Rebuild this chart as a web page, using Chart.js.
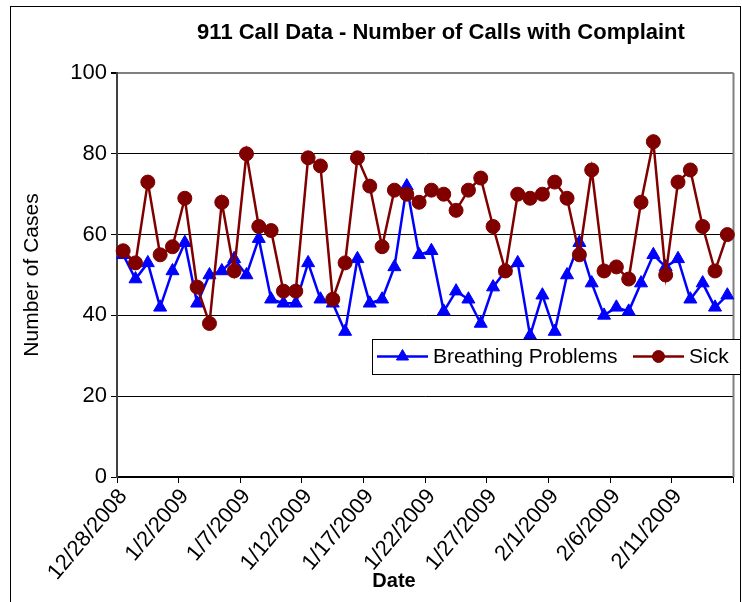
<!DOCTYPE html>
<html>
<head>
<meta charset="utf-8">
<script src="https://cdn.jsdelivr.net/npm/chart.js@4/dist/chart.umd.min.js"></script>
<style>
  html, body { margin: 0; padding: 0; background: #fff; }
</style>
</head>
<body>
<canvas id="chart" width="742" height="602"></canvas>
<script>
"use strict";
// 911 call data, one point per day
const dates = [
  "12/28/2008", "12/29/2008", "12/30/2008", "12/31/2008",
  "1/1/2009", "1/2/2009", "1/3/2009", "1/4/2009", "1/5/2009", "1/6/2009", "1/7/2009",
  "1/8/2009", "1/9/2009", "1/10/2009", "1/11/2009", "1/12/2009", "1/13/2009", "1/14/2009",
  "1/15/2009", "1/16/2009", "1/17/2009", "1/18/2009", "1/19/2009", "1/20/2009", "1/21/2009",
  "1/22/2009", "1/23/2009", "1/24/2009", "1/25/2009", "1/26/2009", "1/27/2009", "1/28/2009",
  "1/29/2009", "1/30/2009", "1/31/2009",
  "2/1/2009", "2/2/2009", "2/3/2009", "2/4/2009", "2/5/2009", "2/6/2009", "2/7/2009",
  "2/8/2009", "2/9/2009", "2/10/2009", "2/11/2009", "2/12/2009", "2/13/2009", "2/14/2009",
  "2/15/2009"
];
const breathing = [55, 49, 53, 42, 51, 58, 43, 50, 51, 54, 50, 59, 44, 43, 43, 53, 44, 43, 36, 54,
  43, 44, 52, 72, 55, 56, 41, 46, 44, 38, 47, 51, 53, 35, 45, 36, 50, 58, 48, 40,
  42, 41, 48, 55, 52, 54, 44, 48, 42, 45];
const sick = [56, 53, 73, 55, 57, 69, 47, 38, 68, 51, 80, 62, 61, 46, 46, 79, 77, 44, 53, 79,
  72, 57, 71, 70, 68, 71, 70, 66, 71, 74, 62, 51, 70, 69, 70, 73, 69, 55, 76, 51,
  52, 49, 68, 83, 50, 73, 76, 62, 51, 60];
const yTicks = [0, 20, 40, 60, 80, 100];
const labelEvery = 5;

const FONT = "'Liberation Sans', Arial, sans-serif";
Chart.defaults.font.family = FONT;
Chart.defaults.color = "#000";

const BLUE = "#0000ff";
const RED = "#800000";

const decor = {
  id: "decor",
  beforeDraw(chart) {
    const ctx = chart.ctx;
    ctx.save();
    ctx.fillStyle = "#fff";
    ctx.fillRect(0, 0, chart.width, chart.height);
    ctx.restore();
  },
  beforeDatasetsDraw(chart) {
    const a = chart.chartArea;
    const ctx = chart.ctx;
    ctx.save();
    ctx.strokeStyle = "#808080";
    ctx.lineWidth = 2;
    ctx.beginPath();
    ctx.moveTo(a.right, a.top);
    ctx.lineTo(a.right, a.bottom);
    ctx.stroke();
    ctx.restore();
  },
  afterDraw(chart) {
    const ctx = chart.ctx;
    ctx.save();
    // outer frame
    ctx.strokeStyle = "#000";
    ctx.lineWidth = 1;
    ctx.strokeRect(10.5, 6.5, 730, 620);
    // title
    ctx.fillStyle = "#000";
    ctx.textAlign = "center";
    ctx.textBaseline = "middle";
    ctx.font = "bold 22px " + FONT;
    ctx.fillText("911 Call Data - Number of Calls with Complaint", 441, 33);
    ctx.font = "bold 20px " + FONT;
    ctx.fillText("Date", 394, 581);
    // legend
    const lx = 372, ly = 339, lw = 368, lh = 35, cy = ly + lh / 2;
    ctx.fillStyle = "#fff";
    ctx.fillRect(lx, ly, lw, lh);
    ctx.strokeStyle = "#000";
    ctx.strokeRect(lx + 0.5, ly + 0.5, lw, lh);
    const items = [
      { x: 377, color: BLUE, style: "triangle", radius: 7, text: "Breathing Problems" },
      { x: 633, color: RED, style: "circle", radius: 6, text: "Sick" }
    ];
    ctx.font = "21px " + FONT;
    ctx.textAlign = "left";
    for (const it of items) {
      ctx.strokeStyle = it.color;
      ctx.lineWidth = 2.5;
      ctx.beginPath();
      ctx.moveTo(it.x, cy);
      ctx.lineTo(it.x + 51, cy);
      ctx.stroke();
      ctx.fillStyle = it.color;
      ctx.lineWidth = 1;
      Chart.helpers.drawPoint(ctx, { pointStyle: it.style, radius: it.radius, rotation: 0, borderWidth: 1 }, it.x + 25.5, cy);
      ctx.fillStyle = "#000";
      ctx.fillText(it.text, it.x + 56, cy + 1);
    }
    ctx.restore();
  }
};

new Chart(document.getElementById("chart").getContext("2d"), {
  type: "line",
  data: {
    labels: dates,
    datasets: [
      {
        label: "Breathing Problems",
        data: breathing,
        borderColor: BLUE,
        backgroundColor: BLUE,
        borderWidth: 2.5,
        pointStyle: "triangle",
        pointRadius: 7.5,
        pointBorderWidth: 1,
        tension: 0,
        order: 1
      },
      {
        label: "Sick",
        data: sick,
        borderColor: RED,
        backgroundColor: RED,
        borderWidth: 2.5,
        pointStyle: "circle",
        pointRadius: 7,
        pointBorderWidth: 1,
        tension: 0,
        order: 0
      }
    ]
  },
  options: {
    responsive: false,
    animation: false,
    layout: { padding: { left: 20, top: 73, right: 7, bottom: 0 } },
    plugins: {
      legend: { display: false },
      title: { display: false },
      tooltip: { enabled: false }
    },
    scales: {
      x: {
        type: "category",
        offset: true,
        grid: {
          offset: true,
          drawOnChartArea: false,
          tickLength: 6,
          tickColor: ctx => (ctx.type !== "tick" || ctx.index % labelEvery === 0) ? "#000" : "rgba(0,0,0,0)"
        },
        border: { color: "#000", width: 1.5 },
        ticks: {
          autoSkip: false,
          minRotation: 50,
          maxRotation: 50,
          padding: 1,
          color: "#000",
          font: { size: 22 },
          callback: (v, i) => (i % labelEvery === 0 ? dates[i] : "")
        },
        afterFit: s => { s.height = 125; s.paddingRight = 0; }
      },
      y: {
        min: yTicks[0],
        max: yTicks[yTicks.length - 1],
        afterBuildTicks: s => { s.ticks = yTicks.map(v => ({ value: v })); },
        grid: {
          color: ctx => (ctx.tick && ctx.tick.value === 100 ? "#808080" : "#000"),
          lineWidth: ctx => (ctx.tick && ctx.tick.value === 100 ? 2 : 1),
          tickLength: 6,
          tickColor: "#000"
        },
        border: { color: "#404040", width: 2 },
        ticks: { color: "#000", font: { size: 22 }, padding: 4 },
        title: {
          display: true,
          text: "Number of Cases",
          color: "#000",
          font: { size: 21 },
          padding: { top: 0, bottom: 0 }
        },
        afterFit: s => { s.width = 97; }
      }
    }
  },
  plugins: [decor]
});
</script>
</body>
</html>
